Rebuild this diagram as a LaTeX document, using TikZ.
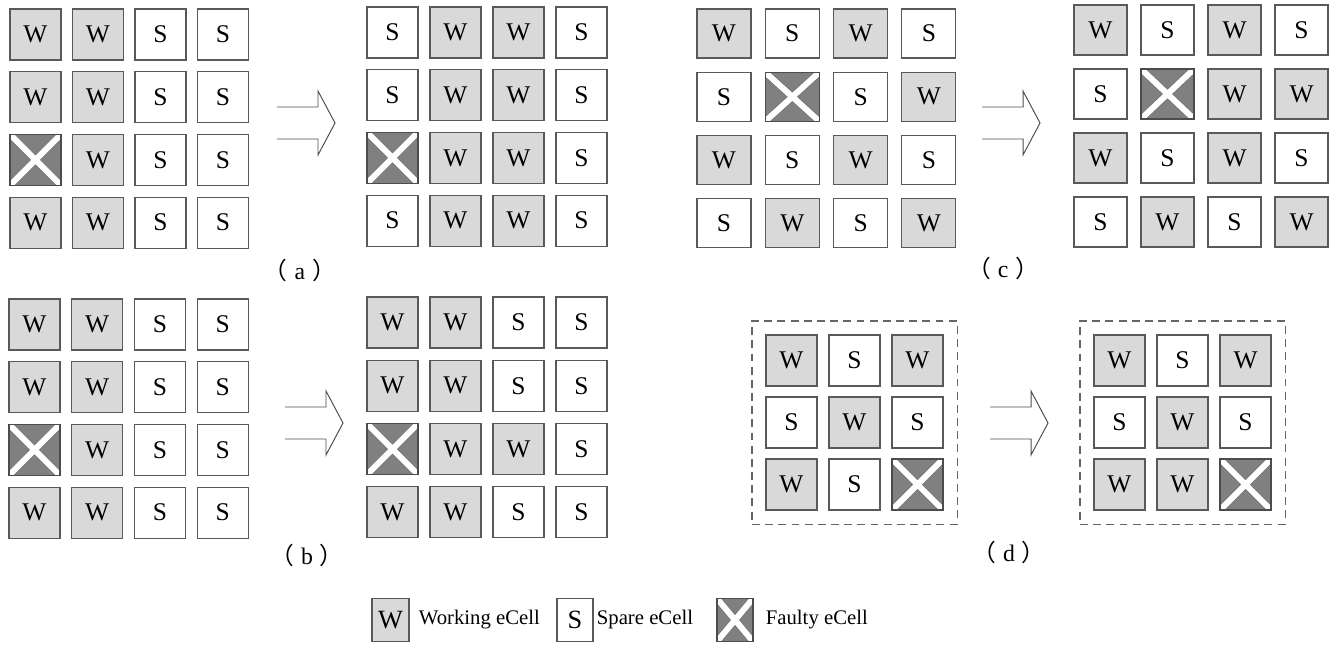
\documentclass[tikz,border=0pt]{standalone}
\usepackage{fontspec}
\setmainfont{Liberation Serif}
\newfontfamily\cjk{Noto Sans CJK SC}
\usepackage{tikz}
\usetikzlibrary{positioning, fit, calc}
\definecolor{cellGray}{HTML}{D9D9D9}
\definecolor{faultGray}{HTML}{808080}
\definecolor{edgeGray}{HTML}{595959}

\tikzset{
  cell/.style={draw=edgeGray, line width=0.6pt, inner sep=0pt, font=\fontsize{14.5}{14.5}\selectfont},
  cellW/.style={cell, fill=cellGray},
  cellS/.style={cell, fill=white},
  cellF/.style={cell, fill=faultGray, draw=black!70, path picture={
      \draw[draw=black!55, double=white, double distance=3.4pt, line width=0.4pt]
        (path picture bounding box.north west) -- (path picture bounding box.south east)
        (path picture bounding box.south west) -- (path picture bounding box.north east);}},
  fatarrow/.style={draw=black!70, line width=0.55pt, line join=miter},
  dashbox/.style={draw=black!60, line width=0.6pt, dash pattern=on 4.5pt off 3pt, inner sep=0.27cm},
  sublabel/.style={font=\fontsize{13.5}{14}\selectfont},
  legtext/.style={inner sep=0pt, font=\fontsize{11.8}{12}\selectfont},
}

% grid of cells: name, left, top, step x, step y, width, height, rows
\newcommand{\cellgrid}[8]{
  \foreach \row [count=\j from 0] in {#8} {
    \foreach \t [count=\i from 0] in \row {
      \node[cell\t, minimum width={#6*0.02cm}, minimum height={#7*0.02cm}]
        (#1-\j-\i) at ({#2+#6/2+\i*#4},{#3+#7/2+\j*#5}) {\if\t F\else\t\fi};
    }
  }
}

\begin{document}
\begin{tikzpicture}[x=0.02cm, y=-0.02cm]
  \useasboundingbox (0,0) rectangle (1337,646);

  % (a)
  \cellgrid{al}{10}{9}{62.5}{62.7}{51}{51}{{W,W,S,S},{W,W,S,S},{F,W,S,S},{W,W,S,S}}
  \cellgrid{ar}{367}{7}{63}{62.7}{51}{51}{{S,W,W,S},{S,W,W,S},{F,W,W,S},{S,W,W,S}}
  % (b)
  \cellgrid{bl}{9}{299}{62.7}{62.7}{51}{51}{{W,W,S,S},{W,W,S,S},{F,W,S,S},{W,W,S,S}}
  \cellgrid{br}{367}{297}{63}{63.3}{51}{51}{{W,W,S,S},{W,W,S,S},{F,W,W,S},{W,W,S,S}}
  % (c)
  \cellgrid{cl}{697}{9}{68.3}{63.3}{54}{49}{{W,S,W,S},{S,F,S,W},{W,S,W,S},{S,W,S,W}}
  \cellgrid{cr}{1074}{5}{67}{64}{53}{50}{{W,S,W,S},{S,F,W,W},{W,S,W,S},{S,W,S,W}}
  % (d)
  \cellgrid{dl}{766}{335}{63}{62}{51}{51}{{W,S,W},{S,W,S},{W,S,F}}
  \cellgrid{dr}{1094}{335}{63}{62}{51}{51}{{W,S,W},{S,W,S},{W,W,F}}
  \node[dashbox, fit=(dl-0-0)(dl-2-2)] (dlbox) {};
  \node[dashbox, fit=(dr-0-0)(dr-2-2)] (drbox) {};

  % hollow arrows
  \foreach \ax/\ay in {277/123, 285/423, 982/123, 990/423}
    \draw[fatarrow] (\ax,\ay-16) -- ++(41,0) -- ++(0,-16) -- ++(17,32)
      -- ++(-17,32) -- ++(0,-16) -- ++(-41,0);

  % sub-figure labels
  \node[sublabel] (laba) at (300,270) {{\cjk （}\kern4pt a\kern4pt{\cjk ）}};
  \node[sublabel] (labb) at (307,555) {{\cjk （}\kern4pt b\kern4pt{\cjk ）}};
  \node[sublabel] (labc) at (1003,268) {{\cjk （}\kern4pt c\kern4pt{\cjk ）}};
  \node[sublabel] (labd) at (1009,552) {{\cjk （}\kern4pt d\kern4pt{\cjk ）}};

  % legend
  \node[cellW, minimum width=0.74cm, minimum height=0.86cm, font=\fontsize{15}{15}\selectfont] (legW) at (390.5,620) {W};
  \node[legtext, right=0.18cm of legW] (legWtxt) {Working eCell};
  \node[cellS, minimum width=0.72cm, minimum height=0.86cm, font=\fontsize{15}{15}\selectfont] (legS) at (575,620) {S};
  \node[legtext, right=0.06cm of legS] (legStxt) {Spare eCell};
  \node[cellF, minimum width=0.72cm, minimum height=0.86cm] (legF) at (735,620) {};
  \node[legtext, right=0.24cm of legF] (legFtxt) {Faulty eCell};
\end{tikzpicture}
\end{document}
